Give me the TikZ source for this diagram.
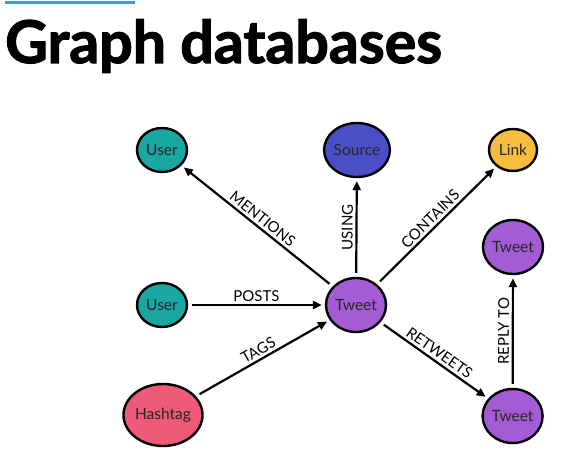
\documentclass[tikz,border=0pt]{standalone}
\usepackage{fontspec}
\setmainfont{Lato}
\newfontfamily\headfont{Lato}[BoldFeatures={FakeBold=2}]
\usetikzlibrary{arrows.meta, positioning, shapes}
\usepackage{xcolor}

\definecolor{userteal}{HTML}{1AA6A3}
\definecolor{srcblue}{HTML}{4A4FC6}
\definecolor{linkyellow}{HTML}{F7BD3F}
\definecolor{tweetpurple}{HTML}{A35CD3}
\definecolor{hashred}{HTML}{EF5A78}
\definecolor{barblue}{HTML}{3A9FD8}

\begin{document}
\begin{tikzpicture}[
            x=1pt, y=-1pt,
            every node/.style={draw, ellipse, line width=2.4pt, inner sep=0mm, text=black!85, font=\fontsize{15.5}{15.5}\selectfont},
            lbl/.style={draw=none, rectangle, sloped, above, inner sep=2.5pt, text=black, font=\fontsize{15}{15}\selectfont},
            >={Triangle[length=9pt, width=8pt]}
        ]
            \useasboundingbox (0, 0) rectangle (568, 470);
            \draw[barblue, line width=3pt] (5, 3) -- (135, 3);
            \node[draw=none, rectangle, anchor=base west, text=black, font=\headfont\fontsize{59}{59}\selectfont\bfseries] (title) at (4, 63) {Graph databases};
            \node[fill=userteal, minimum width=50pt, minimum height=44pt] (u1) at (162, 150) {User};
            \node[fill=srcblue, minimum width=64pt, minimum height=54pt] (src) at (357, 150) {Source};
            \node[fill=linkyellow, minimum width=48pt, minimum height=42pt] (lnk) at (513, 150) {Link};
            \node[fill=tweetpurple, minimum width=60pt, minimum height=54pt] (t2) at (513, 247) {Tweet};
            \node[fill=userteal, minimum width=50pt, minimum height=44pt] (u2) at (162, 305) {User};
            \node[fill=tweetpurple, minimum width=60pt, minimum height=54pt] (t0) at (356, 305) {Tweet};
            \node[fill=hashred, minimum width=70pt, minimum height=62pt] (hash) at (163, 415) {Hashtag};
            \node[fill=tweetpurple, minimum width=60pt, minimum height=54pt] (t1) at (512.6, 416) {Tweet};
            \path[->, draw, line width=2.2pt, shorten <=4pt, shorten >=3pt]
            (t0) edge node[lbl] {MENTIONS} (u1)
            (t0) edge node[lbl] {USING} (src)
            (t0) edge node[lbl] {CONTAINS} (lnk)
            (u2) edge node[lbl] {POSTS} (t0)
            (hash) edge node[lbl] {TAGS} (t0)
            (t0) edge node[lbl] {RETWEETS} (t1)
            (t1) edge node[lbl] {REPLY TO} (t2)
            ;
        \end{tikzpicture}
\end{document}
